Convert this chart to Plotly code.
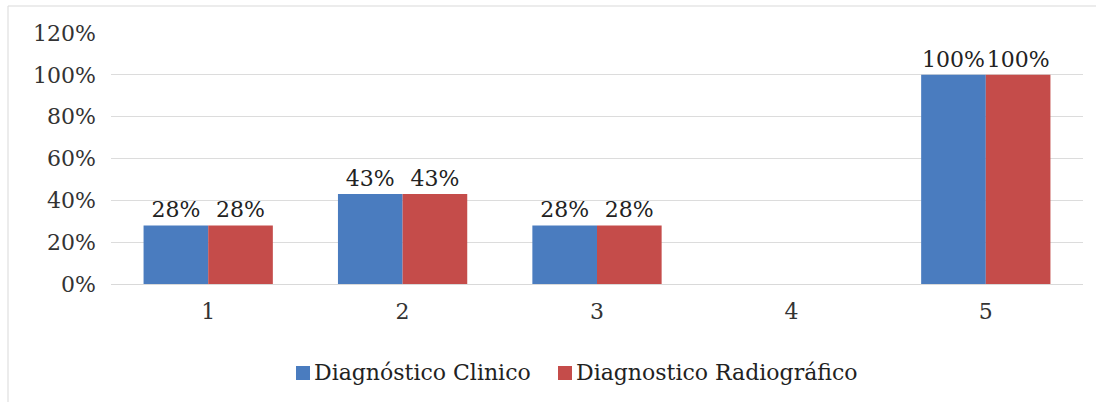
import plotly.graph_objects as go

categories = ["1", "2", "3", "4", "5"]
clinico = [0.28, 0.43, 0.28, None, 1.00]
radiografico = [0.28, 0.43, 0.28, None, 1.00]
y_ticks = [0, 0.2, 0.4, 0.6, 0.8, 1.0, 1.2]
y_tick_labels = ["0%", "20%", "40%", "60%", "80%", "100%", "120%"]
series_names = ["Diagnóstico Clinico", "Diagnostico Radiográfico"]
series_colors = ["#4a7cbf", "#c54c4a"]

FONT = "DejaVu Serif, Liberation Serif, serif"
FS = 22

W, H = 1096, 402
L, R, T, B = 111, 13, 33, 118
pw, ph = W - L - R, H - T - B


def px_x(x):
    return (x - L) / pw


def px_y(y):
    return (H - B - y) / ph


def labels(vals):
    return ["" if v is None else f"{round(v * 100)}%" for v in vals]


fig = go.Figure()
for name, vals, color in zip(series_names, [clinico, radiografico], series_colors):
    fig.add_trace(go.Bar(
        name=name, x=categories, y=vals,
        text=labels(vals), textposition="outside", cliponaxis=False,
        marker=dict(color=color, line=dict(width=0)),
        textfont=dict(family=FONT, size=FS, color="#222222"),
        showlegend=False,
    ))

# legend drawn as swatches + text so the swatch sits right next to its label
legend_x = [296, 558]
shapes = [dict(
    type="rect", xref="paper", yref="paper",
    x0=px_x(8), x1=px_x(1110), y0=px_y(420), y1=px_y(6),
    line=dict(color="#d9d9d9", width=1), fillcolor="rgba(0,0,0,0)",
    layer="below",
)]
annotations = []
for lx, name, color in zip(legend_x, series_names, series_colors):
    shapes.append(dict(
        type="rect", xref="paper", yref="paper",
        x0=px_x(lx), x1=px_x(lx + 14), y0=px_y(380), y1=px_y(366),
        line=dict(width=0), fillcolor=color,
    ))
    annotations.append(dict(
        xref="paper", yref="paper", x=px_x(lx + 16), y=px_y(372),
        xanchor="left", yanchor="middle", showarrow=False,
        text=name, font=dict(family=FONT, size=FS, color="#222222"),
    ))

fig.update_layout(
    width=W, height=H,
    margin=dict(l=L, r=R, t=T, b=B),
    paper_bgcolor="white", plot_bgcolor="white",
    barmode="group", bargap=0.335, bargroupgap=0,
    font=dict(family=FONT, size=FS, color="#333333"),
    showlegend=False,
    xaxis=dict(
        showgrid=False, showline=True, linecolor="#d9d9d9", linewidth=1,
        ticks="outside", ticklen=8, tickcolor="rgba(0,0,0,0)",
        tickfont=dict(family=FONT, size=FS, color="#333333"),
    ),
    yaxis=dict(
        range=[0, 1.2], tickvals=y_ticks, ticktext=y_tick_labels,
        showgrid=True, gridcolor="#dcdcdc", gridwidth=1,
        zeroline=False, showline=False,
        ticklabelstandoff=14,
        tickfont=dict(family=FONT, size=FS, color="#333333"),
    ),
    shapes=shapes,
    annotations=annotations,
)

fig.write_html("out.html")
